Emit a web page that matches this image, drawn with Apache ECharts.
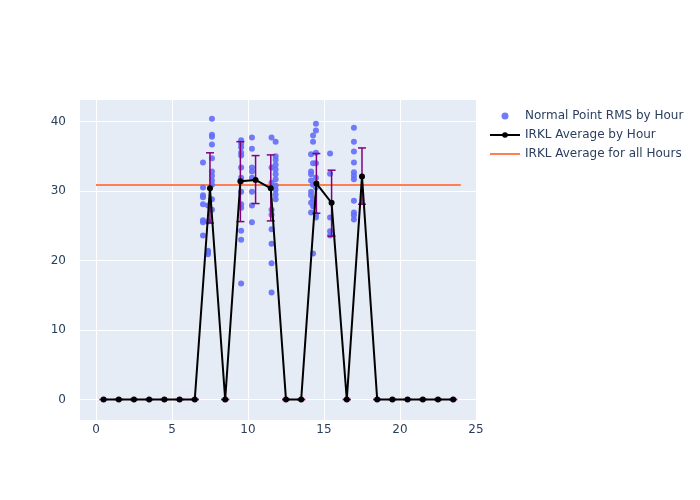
<!DOCTYPE html>
<html><head><meta charset="utf-8">
<script src="https://cdn.jsdelivr.net/npm/echarts@6/dist/echarts.min.js"></script>
<style>html,body{margin:0;padding:0;background:#fff}#c{width:700px;height:500px}</style>
</head><body><div id="c"></div>
<script>
// Scatter: Normal Point RMS by Hour [hour position, rms]
const rmsX = [7.63,7.63,7.63,7.63,7.63,7.04,7.63,7.63,7.63,7.04,7.63,7.04,7.04,7.63,7.04,7.37,7.63,7.04,7.04,7.37,7.04,7.37,7.37,7.37,
  9.55,9.55,9.55,9.55,9.55,9.55,9.55,9.55,9.55,9.55,9.55,9.55,9.55,9.55,
  10.26,10.26,10.26,10.26,10.26,10.26,10.26,10.26,
  11.55,11.82,11.82,11.82,11.55,11.82,11.82,11.82,11.82,11.55,11.82,11.82,11.82,11.82,11.55,11.55,11.55,11.55,11.55,11.55,
  14.47,14.47,14.28,14.28,14.47,14.15,14.28,14.47,14.15,14.15,14.47,14.15,14.28,14.47,14.15,14.15,14.28,14.15,14.28,14.15,14.47,14.47,14.28,
  15.4,15.4,15.4,15.4,15.4,
  16.97,16.97,16.97,16.97,16.97,16.97,16.97,16.97,16.97,16.97,16.97];
const rmsY = [40.4,38.1,37.8,36.7,34.7,34.1,32.8,32.2,31.5,30.5,30.9,29.4,29.1,28.8,28.1,27.9,27.3,25.8,25.5,25.6,23.6,21.4,21.2,20.9,
  37.3,36.8,36.3,35.5,35.1,33.4,31.9,31.4,29.9,28.1,27.6,24.3,23.0,16.7,
  37.7,36.1,33.4,32.8,31.9,29.9,27.9,25.5,
  37.7,37.1,35.0,34.5,33.4,33.8,33.1,32.4,31.7,31.2,30.8,30.2,29.5,28.8,27.3,26.6,24.5,22.4,19.6,15.4,
  39.7,38.7,38.0,37.1,35.5,35.3,34.0,34.0,32.8,32.4,31.9,31.5,30.9,30.5,29.9,29.4,28.8,28.3,27.8,26.9,26.6,26.2,21.0,
  35.4,32.5,26.2,24.2,23.6,
  39.1,37.1,35.7,34.1,32.7,32.2,31.7,28.6,26.9,26.5,25.9];
// IRKL average by hour
const hourX = [0.5,1.5,2.5,3.5,4.5,5.5,6.5,7.5,8.5,9.5,10.5,11.5,12.5,13.5,14.5,15.5,16.5,17.5,18.5,19.5,20.5,21.5,22.5,23.5];
const hourAvg = [0,0,0,0,0,0,0,30.4,0,31.4,31.6,30.4,0,0,31.1,28.3,0,32.1,0,0,0,0,0,0];
const errLow  = [0,0,0,0,0,0,0,25.4,0,25.6,28.2,25.7,0,0,26.8,23.5,0,28.1,0,0,0,0,0,0];
const errHigh = [0,0,0,0,0,0,0,35.5,0,37.1,35.1,35.2,0,0,35.4,33.0,0,36.2,0,0,0,0,0,0];
// overall average
const allX = [0,24];
const allAvg = 30.85;
const xTicks = [0,5,10,15,20,25];
const yTicks = [0,10,20,30,40];

const fontFam = '"DejaVu Sans", "Open Sans", sans-serif';
const txt = '#2a3f5f';
const chart = echarts.init(document.getElementById('c'));
chart.setOption({
  animation:false,
  backgroundColor:'#fff',
  textStyle:{fontFamily:fontFam,color:txt},
  grid:{left:80,top:100,width:396,height:320,show:true,backgroundColor:'#e5ecf6',borderWidth:0},
  legend:{orient:'vertical',left:484,top:105,itemGap:7,itemWidth:30,itemHeight:7,
    textStyle:{fontFamily:fontFam,fontSize:12,color:txt},
    data:[{name:'Normal Point RMS by Hour',icon:'circle',itemStyle:{color:'#636efa'}},
          {name:'IRKL Average by Hour'},
          {name:'IRKL Average for all Hours',itemStyle:{opacity:0}}]},
  xAxis:{type:'value',min:-1.05,max:25,
    axisLine:{show:false},axisTick:{show:false,customValues:xTicks},
    axisLabel:{customValues:xTicks,color:txt,fontSize:12,fontFamily:fontFam,margin:4},
    splitLine:{show:true,lineStyle:{color:'#fff',width:1}}},
  yAxis:{type:'value',min:-2.95,max:43.1,
    axisLine:{show:false},axisTick:{show:false,customValues:yTicks},
    axisLabel:{customValues:yTicks,color:txt,fontSize:12,fontFamily:fontFam,margin:14},
    splitLine:{show:true,lineStyle:{color:'#fff',width:1}}},
  series:[
    {name:'Normal Point RMS by Hour',type:'scatter',symbolSize:6,
     itemStyle:{color:'#636efa',opacity:0.9},
     data:rmsX.map((x,i)=>[x,rmsY[i]]),z:2},
    {name:'errbars',type:'custom',z:3,
     data:hourX.map((x,i)=>[x,errLow[i],errHigh[i]]),
     renderItem:function(params,api){
       const x=api.value(0);
       const lo=api.coord([x,api.value(1)]);
       const hi=api.coord([x,api.value(2)]);
       const w=4;
       const st={stroke:'#800080',lineWidth:1.5};
       return {type:'group',children:[
         {type:'line',shape:{x1:lo[0],y1:lo[1],x2:hi[0],y2:hi[1]},style:st},
         {type:'line',shape:{x1:lo[0]-w,y1:lo[1],x2:lo[0]+w,y2:lo[1]},style:st},
         {type:'line',shape:{x1:hi[0]-w,y1:hi[1],x2:hi[0]+w,y2:hi[1]},style:st}
       ]};
     }},
    {name:'IRKL Average by Hour',type:'line',symbol:'circle',symbolSize:6,z:4,
     lineStyle:{color:'#000',width:2},itemStyle:{color:'#000'},
     data:hourX.map((x,i)=>[x,hourAvg[i]])},
    {name:'IRKL Average for all Hours',type:'line',symbol:'none',z:1,
     lineStyle:{color:'#ff7f50',width:2},itemStyle:{color:'#ff7f50'},
     data:allX.map(x=>[x,allAvg])}
  ]
});
</script></body></html>
